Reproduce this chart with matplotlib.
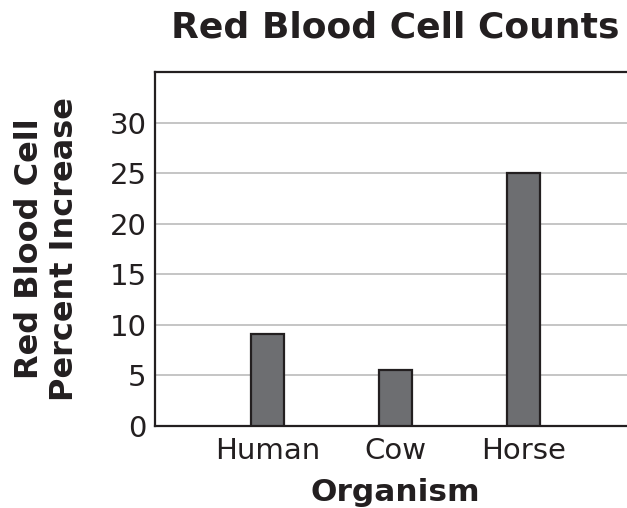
import matplotlib
matplotlib.use("Agg")
import matplotlib.pyplot as plt

categories = ["Human", "Cow", "Horse"]
values = [9.1, 5.5, 25]
yticks = [0, 5, 10, 15, 20, 25, 30]

plt.rcParams['font.family'] = ['DejaVu Sans']

fig = plt.figure(figsize=(6.27, 5.08), dpi=100)
ax_left, ax_right, ax_top, ax_bottom = 155, 640, 72, 426
ax = fig.add_axes([ax_left/627, (508-ax_bottom)/508, (ax_right-ax_left)/627, (ax_bottom-ax_top)/508])

x = list(range(len(categories)))
ax.bar(x, values, width=0.26, color="#6d6e71", edgecolor="#231f20", linewidth=1.6, zorder=3)

ax.set_ylim(0, 35)
ax.set_xlim(-0.88, 2.91)
ax.set_yticks(yticks)
ax.set_xticks(x)
ax.set_xticklabels(categories)
ax.tick_params(axis='both', length=0, labelsize=21, colors="#231f20")
ax.tick_params(axis='y', pad=6)
ax.tick_params(axis='x', pad=8)
ax.yaxis.grid(True, color="#b5b5b5", linewidth=1.1, zorder=0)
ax.set_axisbelow(True)
for s in ax.spines.values():
    s.set_linewidth(1.6)
    s.set_color("#231f20")

ax.set_xlabel("Organism", fontsize=22.5, fontweight='bold', color="#231f20")
ax.xaxis.set_label_coords((395-ax_left)/(ax_right-ax_left), -(478-ax_bottom)/(ax_bottom-ax_top))
ax.set_ylabel("Red Blood Cell\nPercent Increase", fontsize=23, fontweight='bold',
              color="#231f20", linespacing=1.15, va='center')
ax.yaxis.set_label_coords(-(ax_left-47)/(ax_right-ax_left), 0.5)
fig.text(395/627, 1 - 27/508, "Red Blood Cell Counts", fontsize=26, fontweight='bold',
         color="#231f20", ha='center', va='center')

fig.savefig("out.png", dpi=100)
